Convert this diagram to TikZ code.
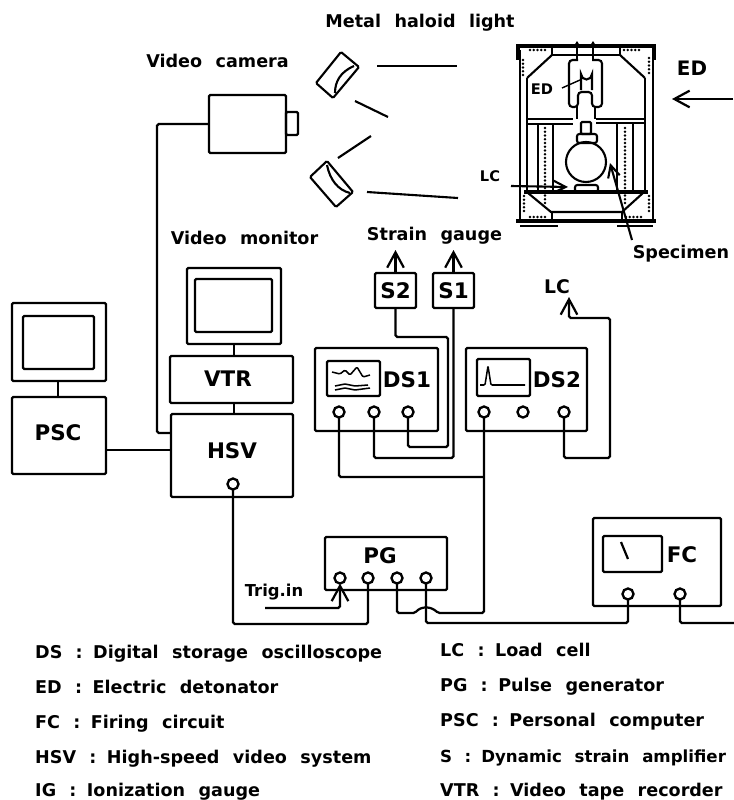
\documentclass[tikz,border=0pt]{standalone}
\usepackage{fontspec}
\setmainfont[WordSpace=2.2]{DejaVu Sans}
\usetikzlibrary{arrows.meta}
\newcommand{\col}{\hspace{.75em}:\hspace{.6em}}
\tikzset{
  unit/.style 2 args={draw, line width=2pt, rounded corners=1pt, outer sep=0pt, inner sep=0pt,
              minimum width=#1*0.03cm, minimum height=#2*0.03cm},
  port/.style={draw, circle, line width=2pt, fill=white, inner sep=0pt, outer sep=0pt,
               minimum size=0.33cm},
  wire/.style={line width=1.9pt, rounded corners=1.5pt},
  barb/.style={-{Straight Barb[length=4.6mm, width=5mm]}},
  smallbarb/.style={-{Straight Barb[length=1.6mm, width=2mm]}},
  frame/.style={line width=1.8pt},
  heavy/.style={line width=3pt},
  trace/.style={line width=1.3pt, rounded corners=1pt},
  bolts/.style={line width=2.2pt, line cap=round, dash pattern=on 0pt off 3.2pt},
  tag/.style={inner sep=0pt, font=\fontsize{18.3}{18.3}\selectfont\bfseries},
  note/.style={inner sep=0pt, font=\fontsize{15}{15}\selectfont\bfseries},
  tiny/.style={inner sep=0pt, font=\fontsize{12.5}{12.5}\selectfont\bfseries},
  entry/.style={inner sep=0pt, anchor=base west, font=\fontsize{15}{15}\selectfont\bfseries},
}
\begin{document}
\begin{tikzpicture}[x=0.03cm, y=-0.03cm]
  \useasboundingbox (0,0) rectangle (734,800);
  % instruments
  \node[unit={77}{58}] (cam) at (247.5,124) {};
  \node[unit={12}{23}] (lens) at (292,123.5) {};
  \node[unit={94}{76}] (mon) at (234,306) {};
  \node[unit={77}{53}] (monscr) at (233.5,305.5) {};
  \node[unit={123}{47}] (vtr) at (231.5,379.5) {};
  \node[tag] (vtrlbl) at (228,379) {VTR};
  \node[unit={122}{83}] (hsv) at (232,455.5) {};
  \node[tag] (hsvlbl) at (232,451) {HSV};
  \node[port] (hsvp) at (233,484) {};
  \node[unit={94}{78}] (pcmon) at (59,342) {};
  \node[unit={71}{53}] (pcscr) at (58.5,342.5) {};
  \node[unit={94}{77}] (psc) at (59,435.5) {};
  \node[tag] (psclbl) at (58,433) {PSC};
  \node[unit={41}{35}] (s2) at (395.5,290.5) {\fontsize{18.3}{18.3}\selectfont\bfseries S2};
  \node[unit={41}{35}] (s1) at (453.5,290.5) {\fontsize{18.3}{18.3}\selectfont\bfseries S1};
  \node[unit={123}{83}] (ds1) at (376.5,389.5) {};
  \node[unit={53}{35}] (ds1scr) at (353.5,378.5) {};
  \node[tag] (ds1lbl) at (407,380) {DS1};
  \node[unit={121}{83}] (ds2) at (526.5,389.5) {};
  \node[unit={53}{37}] (ds2scr) at (503.5,377.5) {};
  \node[tag] (ds2lbl) at (557,380) {DS2};
  \node[unit={122}{53}] (pg) at (386,563.5) {};
  \node[tag] (pglbl) at (380,556) {PG};
  \node[unit={128}{88}] (fc) at (657,562) {};
  \node[unit={59}{36}] (fcscr) at (632.5,554) {};
  \node[tag] (fclbl) at (682,555) {FC};
  \foreach \n/\x in {a/339,b/374,c/408}{
    \node[port] (ds1\n) at (\x,412) {};}
  \foreach \n/\x in {a/484,b/523,c/564}{
    \node[port] (ds2\n) at (\x,412) {};}
  \foreach \n/\x in {a/340,b/368,c/397,d/426}{
    \node[port] (pg\n) at (\x,578) {};}
  \foreach \n/\x in {a/628,b/680}{
    \node[port] (fc\n) at (\x,594) {};}
  % traces on the screens
  \draw[trace] (332,372) -- (340,374) -- (345,370) -- (350,375) -- (357,367) -- (363,377) -- (370,375);
  \draw[trace] (335,386) -- (345,384) -- (355,386) -- (368,385);
  \draw[trace] (335,390) -- (345,388) -- (355,390) -- (370,388);
  \draw[trace] (480,385) -- (485,385) -- (488,366) -- (491,385) -- (525,385);
  \draw[line width=1.9pt] (621,542) -- (628,559);
  % wires
  \coordinate (tee) at (484,477);
  \coordinate (trig) at (265,608);
  \coordinate (lcend) at (569,297);
  \coordinate (fcend) at (734,623);
  \draw[wire] (cam.west) -| (157,433) -- (hsv.west |- 0,433);
  \draw[wire] (psc.east |- 0,450) -- (hsv.west |- 0,450);
  \draw[wire] (pcmon.south -| 58,0) -- (psc.north -| 58,0);
  \draw[wire] (mon.south) -- (mon.south |- vtr.north);
  \draw[wire] (mon.south |- vtr.south) -- (mon.south |- hsv.north);
  \draw[wire, barb] (s2.north) -- ++(0,-23);
  \draw[wire, barb] (s1.north) -- ++(0,-23);
  \draw[wire] (s2.south) |- (448,337) -- (448,447) -| (ds1c.south);
  \draw[wire] (s1.south) |- (ds1b.south |- 0,458) -- (ds1b.south);
  \draw[wire, barb] (ds2c.south) |- (610,458) |- (lcend |- 0,318) -- (lcend);
  \draw[wire] (ds1a.south) |- (tee);
  \draw[wire] (pgc.south) |- (415,613) .. controls (421,606) and (431,606) .. (438,613) -| (ds2a.south);
  \draw[wire] (hsvp.south) |- (pgb.south |- 0,624) -- (pgb.south);
  \draw[wire] (pgd.south) |- (fca.south |- 0,623) -- (fca.south);
  \draw[wire] (fcb.south) |- (fcend);
  \draw[wire, barb] (trig) -| (pga.south);
  % lamps and light
  \draw[frame, rounded corners=1pt] (341,52) -- (359,67) -- (333,98) -- (316,83) -- cycle;
  \draw[frame] (354,66) .. controls (340,72) and (335,82) .. (335,93);
  \draw[frame, rounded corners=1pt] (327,161) -- (353,192) -- (336,207) -- (310,177) -- cycle;
  \draw[frame] (327,165) .. controls (330,180) and (338,190) .. (350,193);
  \draw[frame] (377,66) -- (457,66);
  \draw[frame] (355,101) -- (388,117);
  \draw[frame] (338,158) -- (371,136);
  \draw[frame] (367,192) -- (458,198);
  % chamber
  \draw[heavy] (516,46) -- (656,46);
  \draw[heavy] (518,46) -- (518,60) (654,46) -- (654,60);
  \draw[frame] (552,55) -- (620,55);
  \draw[frame] (552,46) -- (552,55) (620,46) -- (620,55);
  \draw[frame] (520,50) -- (520,222);
  \draw[frame] (527,78) -- (527,192);
  \draw[frame] (645,78) -- (645,192);
  \draw[frame] (653,50) -- (653,222);
  \draw[frame] (527,78) -- (552,55);
  \draw[frame] (645,78) -- (620,55);
  \draw[frame] (527,119) -- (573,119) (596,119) -- (645,119);
  \draw[frame] (527,124) -- (573,124) (596,123) -- (645,123);
  \draw[frame] (538,124) -- (538,192) (553,124) -- (553,192);
  \draw[frame] (617,124) -- (617,192) (633,124) -- (633,192);
  \draw[heavy] (524,192) -- (648,192);
  \draw[frame] (528,193) -- (551,212) -- (622,212) -- (643,193);
  \draw[heavy] (516,221) -- (656,221);
  \draw[frame] (552,212) -- (552,221) (622,212) -- (622,221);
  \draw[frame] (520,226) -- (558,226) (617,226) -- (653,226);
  \draw[bolts] (545,128) -- (545,205);
  \draw[bolts] (625,128) -- (625,205);
  \draw[bolts] (530,50) -- (548,50);
  \draw[bolts] (624,50) -- (642,50);
  \draw[bolts] (530,217) -- (548,217);
  \draw[bolts] (626,217) -- (644,217);
  \draw[bolts] (523,60) -- (523,76);
  \draw[bolts] (649,58) -- (649,74);
  \draw[bolts] (524,196) -- (524,212);
  \draw[bolts] (649,196) -- (649,212);
  % detonator holder and specimen
  \draw[frame, rounded corners=3pt] (578,60) -- (569,60) -- (569,107) -- (578,107) -- (578,92) -- (592,92) -- (592,107) -- (602,107) -- (602,60) -- (592,60);
  \draw[frame] (581,90) -- (581,74) arc (180:0:5.5) -- (592,90);
  \draw[frame] (577,107) -- (577,119) (595,107) -- (595,119);
  \draw[line width=1.2pt, smallbarb] (577,60) -- (577,41);
  \draw[line width=1.2pt, smallbarb] (593,60) -- (593,41);
  \draw[frame, rounded corners=1pt] (581,122) rectangle (591,134);
  \draw[frame, rounded corners=2pt] (577,134) rectangle (597,143);
  \draw[frame] (586,162) circle (20);
  \draw[frame, rounded corners=2pt] (575,185) rectangle (598,192);
  % chamber labels
  \coordinate (edtip) at (580,80);
  \coordinate (edroot) at (562,88);
  \coordinate (lcroot) at (511,186);
  \coordinate (lctip) at (568,187);
  \coordinate (sproot) at (632,240);
  \coordinate (sptip) at (610,163);
  \coordinate (edfrom) at (733,99);
  \coordinate (edto) at (672,99);
  \draw[line width=1.2pt] (edroot) -- (edtip);
  \draw[frame, -{Straight Barb[length=3.6mm, width=3.6mm]}] (lcroot) -- (lctip);
  \draw[frame, -{Straight Barb[length=3.6mm, width=3.6mm]}] (sproot) -- (sptip);
  \draw[wire, barb] (edfrom) -- (edto);
  \node[tiny] (edin) at (542,89) {ED};
  \node[tiny] (lcin) at (490,176) {LC};
  \node[note, font=\fontsize{17}{17}\selectfont\bfseries] (edout) at (692,68) {ED};
  \node[note] (spec) at (681,254) {Specimen};
  \node[note, font=\fontsize{16}{16}\selectfont\bfseries] (lcout) at (557,287) {LC};
  \node[note] (light) at (420,23) {Metal haloid light};
  \node[note] (camlbl) at (217.5,61) {Video camera};
  \node[note] (monlbl) at (244.5,238) {Video monitor};
  \node[note] (strain) at (434.5,236) {Strain gauge};
  \node[note, font=\fontsize{14}{14}\selectfont\bfseries] (triglbl) at (274,592) {Trig.in};
  % abbreviations
  \foreach \y/\lbl in {658/{DS\col Digital storage oscilloscope},693/{ED\col Electric detonator},
                       728/{FC\col Firing circuit},763/{HSV\col High-speed video system},
                       796/{IG\col Ionization gauge}}{
    \node[entry] (left\y) at (35,\y) {\lbl};}
  \foreach \y/\lbl in {656/{LC\col Load cell},691/{PG\col Pulse generator},
                       726/{PSC\col Personal computer},
                       762/{\fontsize{14.2}{14.2}\selectfont S\col Dynamic strain amplifier},
                       796/{VTR\col Video tape recorder}}{
    \node[entry] (right\y) at (440,\y) {\lbl};}
\end{tikzpicture}
\end{document}
